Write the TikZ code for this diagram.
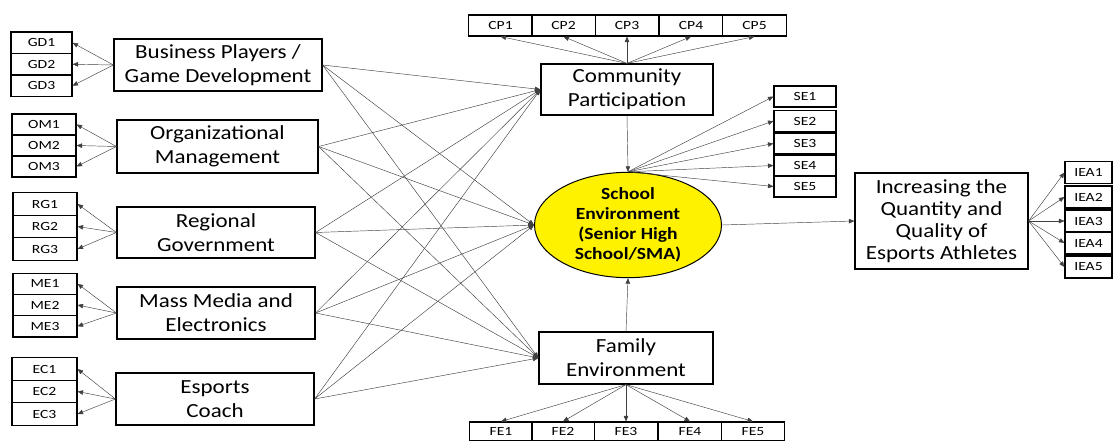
\documentclass[tikz,border=0pt]{standalone}
\usepackage{fontspec}
\setmainfont{Carlito}
\newfontfamily\wfont[FakeStretch=1.15]{Carlito}
\newfontfamily\ifont[FakeStretch=1.25]{Carlito}
\usetikzlibrary{arrows.meta,shapes.geometric}
\begin{document}
\begin{tikzpicture}[x=1pt,y=-1pt,
  latent/.style={draw=black,line width=1.2pt,rectangle,align=center,inner sep=0pt,
    font=\wfont\fontsize{20}{24}\selectfont},
  ind/.style={draw=black,line width=1.1pt,rectangle,inner sep=0pt,
    font=\ifont\fontsize{12.5}{14}\selectfont},
  arr/.style={draw=black!75,line width=0.45pt,-{Triangle[length=5.5pt,width=4.5pt]}}]
\useasboundingbox (0,0) rectangle (1116,441);

% exogenous constructs on the left
\node[latent,minimum width=208,minimum height=52] (bp) at (218,65) {Business Players /\\Game Development};
\node[latent,minimum width=201,minimum height=53] (om) at (217.5,146.5) {Organizational\\Management};
\node[latent,minimum width=198,minimum height=51] (rg) at (216,232.5) {Regional\\Government};
\node[latent,minimum width=198,minimum height=52] (me) at (216,313) {Mass Media and\\Electronics};
\node[latent,minimum width=198,minimum height=52] (ec) at (215,399) {Esports\\Coach};

% indicator stacks of the left constructs
\foreach \n/\x/\w/\ya/\yb/\yc/\h/\pre in {
  gd/41.5/61/42.75/64.25/85.75/21.5/GD,
  om/44/64/124.5/145.5/166.5/21/OM,
  rg/45/64/204/226.5/249/22.3/RG,
  me/45/64/283.7/305/326.3/21.3/ME,
  ec/44.5/65/369/391.5/414/22.3/EC}{
  \node[ind,minimum width=\w,minimum height=\h] (\n1) at (\x,\ya) {\pre1};
  \node[ind,minimum width=\w,minimum height=\h] (\n2) at (\x,\yb) {\pre2};
  \node[ind,minimum width=\w,minimum height=\h] (\n3) at (\x,\yc) {\pre3};
}

% mediators, school environment and outcome
\node[latent,minimum width=172,minimum height=51] (cp) at (627,89.5) {Community\\Participation};
\node[latent,minimum width=174,minimum height=52] (fe) at (626,358) {Family\\Environment};
\node[ellipse,draw=black,line width=1pt,fill=yellow,minimum width=187,minimum height=96,
  inner sep=0pt,align=center,font=\wfont\fontsize{17}{20}\selectfont\bfseries] (se) at (628,225)
  {School\\Environment\\(Senior High\\School/SMA)};
\node[latent,minimum width=173,minimum height=96,font=\wfont\fontsize{20}{22}\selectfont] (iea) at (941.5,221)
  {Increasing the\\Quantity and\\Quality of\\Esports Athletes};

% indicators of community participation and family environment
\foreach \i/\x in {1/500.5,2/563.5,3/627,4/691,5/754.5}
  \node[ind,minimum width=63.5,minimum height=21] (cp\i) at (\x,25.5) {CP\i};
\foreach \i/\x in {1/501,2/563,3/626,4/690,5/753}
  \node[ind,minimum width=62.5,minimum height=19] (fe\i) at (\x,431.5) {FE\i};
% indicators of school environment
\foreach \i/\y in {1/96.5,2/121,3/143.5,4/165.5,5/186.5}
  \node[ind,minimum width=62,minimum height=21] (se\i) at (805,\y) {SE\i};
% indicators of the outcome
\foreach \i/\y in {1/172.5,2/197,3/221,4/243,5/267}
  \node[ind,minimum width=47,minimum height=22] (iea\i) at (1088.5,\y) {IEA\i};

% loadings of the left constructs
\foreach \c/\n in {bp/gd,om/om,rg/rg,me/me,ec/ec}{
  \foreach \k in {1,2,3}
    \draw[arr] (\c.west) -- (\n\k.east);
}
% structural paths from the left constructs
\foreach \n in {bp,om,rg,me,ec}{
  \draw[arr] (\n.east) -- (cp.west);
  \draw[arr] (\n.east) -- (se.west);
  \draw[arr] (\n.east) -- (fe.west);
}
\draw[arr] (cp.south) -- (se.north);
\draw[arr] (fe.north) -- (se.south);
\draw[arr] (se.east) -- (iea.west);

% loadings of the remaining constructs
\foreach \i in {1,...,5}{
  \draw[arr] (cp.north) -- (cp\i.south);
  \draw[arr] (fe.south) -- (fe\i.north);
  \draw[arr] (se.north) -- (se\i.west);
  \draw[arr] (iea.east) -- (iea\i.west);
}
\end{tikzpicture}
\end{document}
